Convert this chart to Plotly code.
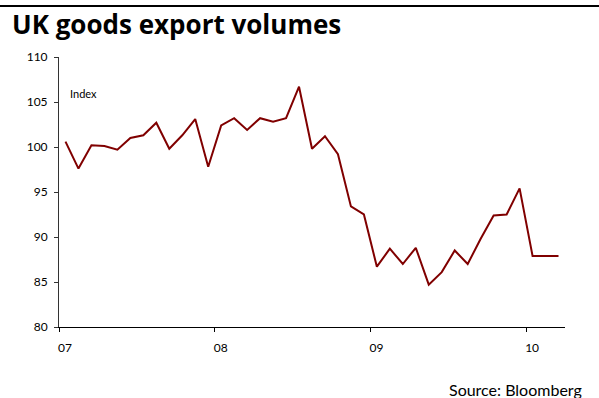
import plotly.graph_objects as go

months = list(range(39))  # Jan 2007 .. Mar 2010
values = [100.6, 97.6, 100.2, 100.1, 99.7, 101.0, 101.3, 102.7, 99.8, 101.3, 103.1, 97.8,
          102.4, 103.2, 101.9, 103.2, 102.8, 103.2, 106.7, 99.8, 101.2, 99.2, 93.4, 92.5,
          86.7, 88.7, 87.0, 88.8, 84.7, 86.1, 88.5, 87.0, 89.8, 92.4, 92.5, 95.4,
          87.9, 87.9, 87.9]
year_ticks = [0, 12, 24, 36]
year_labels = ["07", "08", "09", "10"]
y_ticks = [80, 85, 90, 95, 100, 105, 110]

x = [m + 0.5 for m in months]

fig = go.Figure()
fig.add_trace(go.Scatter(x=x, y=values, mode="lines",
                         line=dict(color="#800000", width=2), showlegend=False,
                         hoverinfo="skip"))

W, H = 599, 398
L, R, T, B = 59, 34, 57, 71
pw, ph = W - L - R, H - T - B

def px_x(p):
    return (p - L) / pw

def px_y(p):
    return (H - B - p) / ph

fig.update_layout(
    width=W, height=H,
    margin=dict(l=L, r=R, t=T, b=B),
    paper_bgcolor="white", plot_bgcolor="white",
    font=dict(family="Lato, sans-serif", color="black", size=11),
    title=dict(text="<b>UK goods export volumes</b>", xref="container", yref="container",
               x=12 / W, xanchor="left", y=1 - 25 / H, yanchor="middle",
               font=dict(family="Open Sans, sans-serif", size=26, color="black")),
    xaxis=dict(range=[0, 39], tickvals=year_ticks, ticktext=year_labels,
               ticks="outside", ticklen=4, tickcolor="black", showgrid=False,
               zeroline=False, showline=True, linecolor="black", linewidth=1,
               ticklabelshift=6, ticklabelstandoff=6, tickfont=dict(size=12)),
    yaxis=dict(range=[80, 110], tickvals=y_ticks, ticks="outside", ticklen=4,
               tickcolor="#333333", showgrid=False, zeroline=False, showline=True,
               linecolor="#333333", linewidth=1, ticklabelstandoff=4,
               tickfont=dict(size=12)),
    shapes=[dict(type="line", xref="paper", yref="paper", x0=px_x(0), x1=px_x(W),
                 y0=px_y(6), y1=px_y(6), line=dict(color="black", width=2))],
    annotations=[
        dict(text="Index", xref="x", yref="y", x=0.7, y=105.9, xanchor="left",
             yanchor="middle", showarrow=False, font=dict(size=11)),
        dict(text="Source: Bloomberg", xref="paper", yref="paper", x=px_x(584),
             y=px_y(389), xanchor="right", yanchor="middle", showarrow=False,
             font=dict(size=16)),
    ],
)

fig.write_html("out.html", config={"displayModeBar": False},
               post_script="document.body.style.margin='0';document.body.style.overflow='hidden';")
